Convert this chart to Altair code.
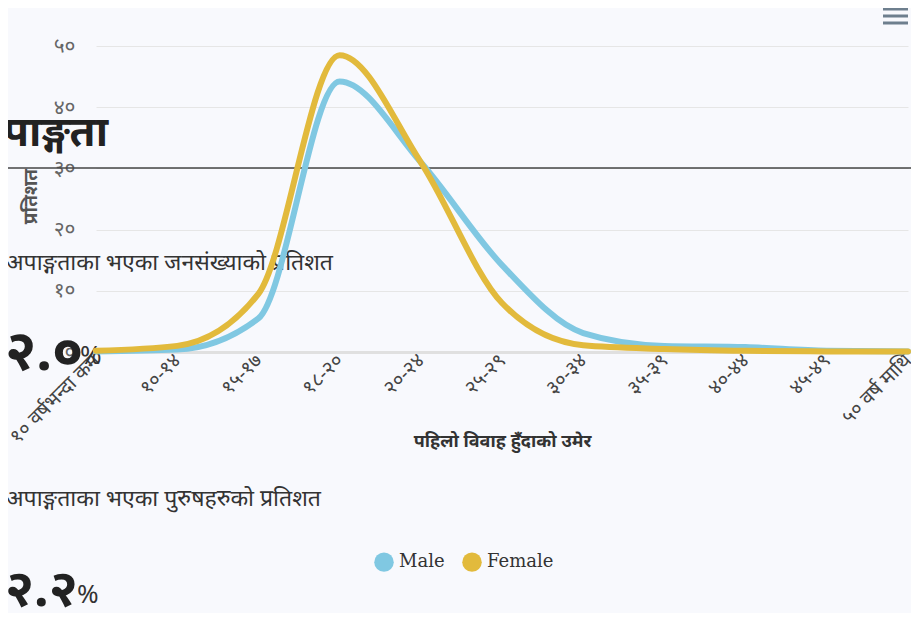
import json
import altair as alt
import pandas as pd

# ---- data ----
age_groups = ["१० वर्षभन्दा कम", "१०-१४", "१५-१७", "१८-२०", "२०-२४", "२५-२९",
              "३०-३४", "३५-३९", "४०-४४", "४५-४९", "५० वर्ष माथि"]
male = [0.1, 0.4, 5.5, 44.2, 31.0, 14.2, 3.1, 1.0, 0.8, 0.2, 0.1]
female = [0.2, 1.0, 9.5, 48.5, 31.0, 8.0, 1.1, 0.5, 0.2, 0.1, 0.1]
series = ["Male", "Female"]
colors = ["#80c8e2", "#e2ba3c"]
y_ticks = [0, 10, 20, 30, 40, 50]
y_tick_labels = ["०", "१०", "२०", "३०", "४०", "५०"]

FONT = "Noto Sans"

rows = []
for i, g in enumerate(age_groups):
    rows.append({"age": g, "sex": "Male", "value": male[i]})
    rows.append({"age": g, "sex": "Female", "value": female[i]})
df = pd.DataFrame(rows)

W, H = 812, 306

x_enc = alt.X("age:N", sort=age_groups,
              scale=alt.Scale(type="point", padding=0),
              axis=alt.Axis(title="पहिलो विवाह हुँदाको उमेर", labelAngle=315,
                            labelAlign="right", labelBaseline="middle",
                            labelPadding=5, labelFontSize=20, labelColor="#444",
                            labelFont=FONT, ticks=False, domain=True,
                            domainColor="#e0e0e0", domainWidth=3, grid=False,
                            titleFont=FONT, titleFontSize=18, titleFontWeight="bold",
                            titleColor="#333", titleY=89, titleBaseline="middle",
                            labelOverlap=False, labelLimit=0))
y_expr = json.dumps(y_tick_labels, ensure_ascii=False) + "[datum.value/10]"
y_enc = alt.Y("value:Q", scale=alt.Scale(domain=[0, 50], nice=False),
              axis=alt.Axis(title="प्रतिशत", values=y_ticks, labelExpr=y_expr,
                            ticks=False, domain=False, grid=True,
                            gridColor="#e6e6e6", gridWidth=1,
                            labelFont=FONT, labelFontSize=21, labelColor="#666",
                            labelPadding=21, titleFont=FONT, titleFontSize=19,
                            titleFontWeight="bold", titleColor="#555",
                            titleAngle=270, titleX=-66, titleY=150,
                            titleAlign="center", titleBaseline="middle"))
color_enc = alt.Color("sex:N", scale=alt.Scale(domain=series, range=colors),
                      legend=alt.Legend(
                          title=None, orient="none", legendX=278, legendY=506,
                          direction="horizontal", symbolType="circle",
                          symbolSize=380, symbolOpacity=1, symbolStrokeWidth=0,
                          labelFont="DejaVu Serif",
                          labelFontSize=18, labelColor="#333", labelOffset=5,
                          columnPadding=17))

base = alt.Chart(df)
legend_layer = base.mark_circle(size=10).encode(
    x=x_enc, y=y_enc, color=color_enc, opacity=alt.value(0))
male_line = base.transform_filter(alt.datum.sex == "Male").mark_line(
    interpolate="monotone", strokeWidth=6, strokeCap="round", color=colors[0]).encode(
    x=x_enc, y=y_enc)
female_line = base.transform_filter(alt.datum.sex == "Female").mark_line(
    interpolate="monotone", strokeWidth=6, strokeCap="round", color=colors[1]).encode(
    x=x_enc, y=y_enc)


def one():
    return alt.Chart(alt.Data(values=[{"a": 1}]))


def label(text, x, y, size, weight="normal", color="#333", align="left", baseline="alphabetic"):
    return one().mark_text(text=text, font=FONT, fontSize=size, fontWeight=weight,
                           color=color, align=align, baseline=baseline).encode(
        x=alt.value(x), y=alt.value(y))


page_texts = [
    label("अपाङ्गता", 12, 100, 42, "bold", "#222", "right"),
    label("अपाङ्गताका भएका जनसंख्याको प्रतिशत", -90, 224, 23, "normal", "#333"),
    label("२.०", -91, 324, 56, "bold", "#222"),
    label("%", -16, 318, 26, "normal", "#333"),
    label("अपाङ्गताका भएका पुरुषहरुको प्रतिशत", -90, 460, 23, "normal", "#333"),
    label("२.२", -91, 560, 52, "bold", "#222"),
    label("%", -19, 557, 26, "normal", "#333"),
]
dark_rule = one().mark_rule(color="#444", strokeWidth=1.5).encode(
    x=alt.value(-88), x2=alt.value(815), y=alt.value(122))
menu = [one().mark_rule(color="#6e7f8e", strokeWidth=3).encode(
    x=alt.value(787), x2=alt.value(812), y=alt.value(yy)) for yy in (-37, -30, -23)]

chart = alt.layer(*page_texts, dark_rule, *menu, legend_layer, male_line, female_line).properties(
    width=W, height=H, autosize="none",
    padding={"left": 88, "top": 38, "right": 3, "bottom": 261},
).configure(background="#f8f9fd").configure_view(stroke=None)

chart.save("out.html", embed_options={"renderer": "svg", "actions": False})
